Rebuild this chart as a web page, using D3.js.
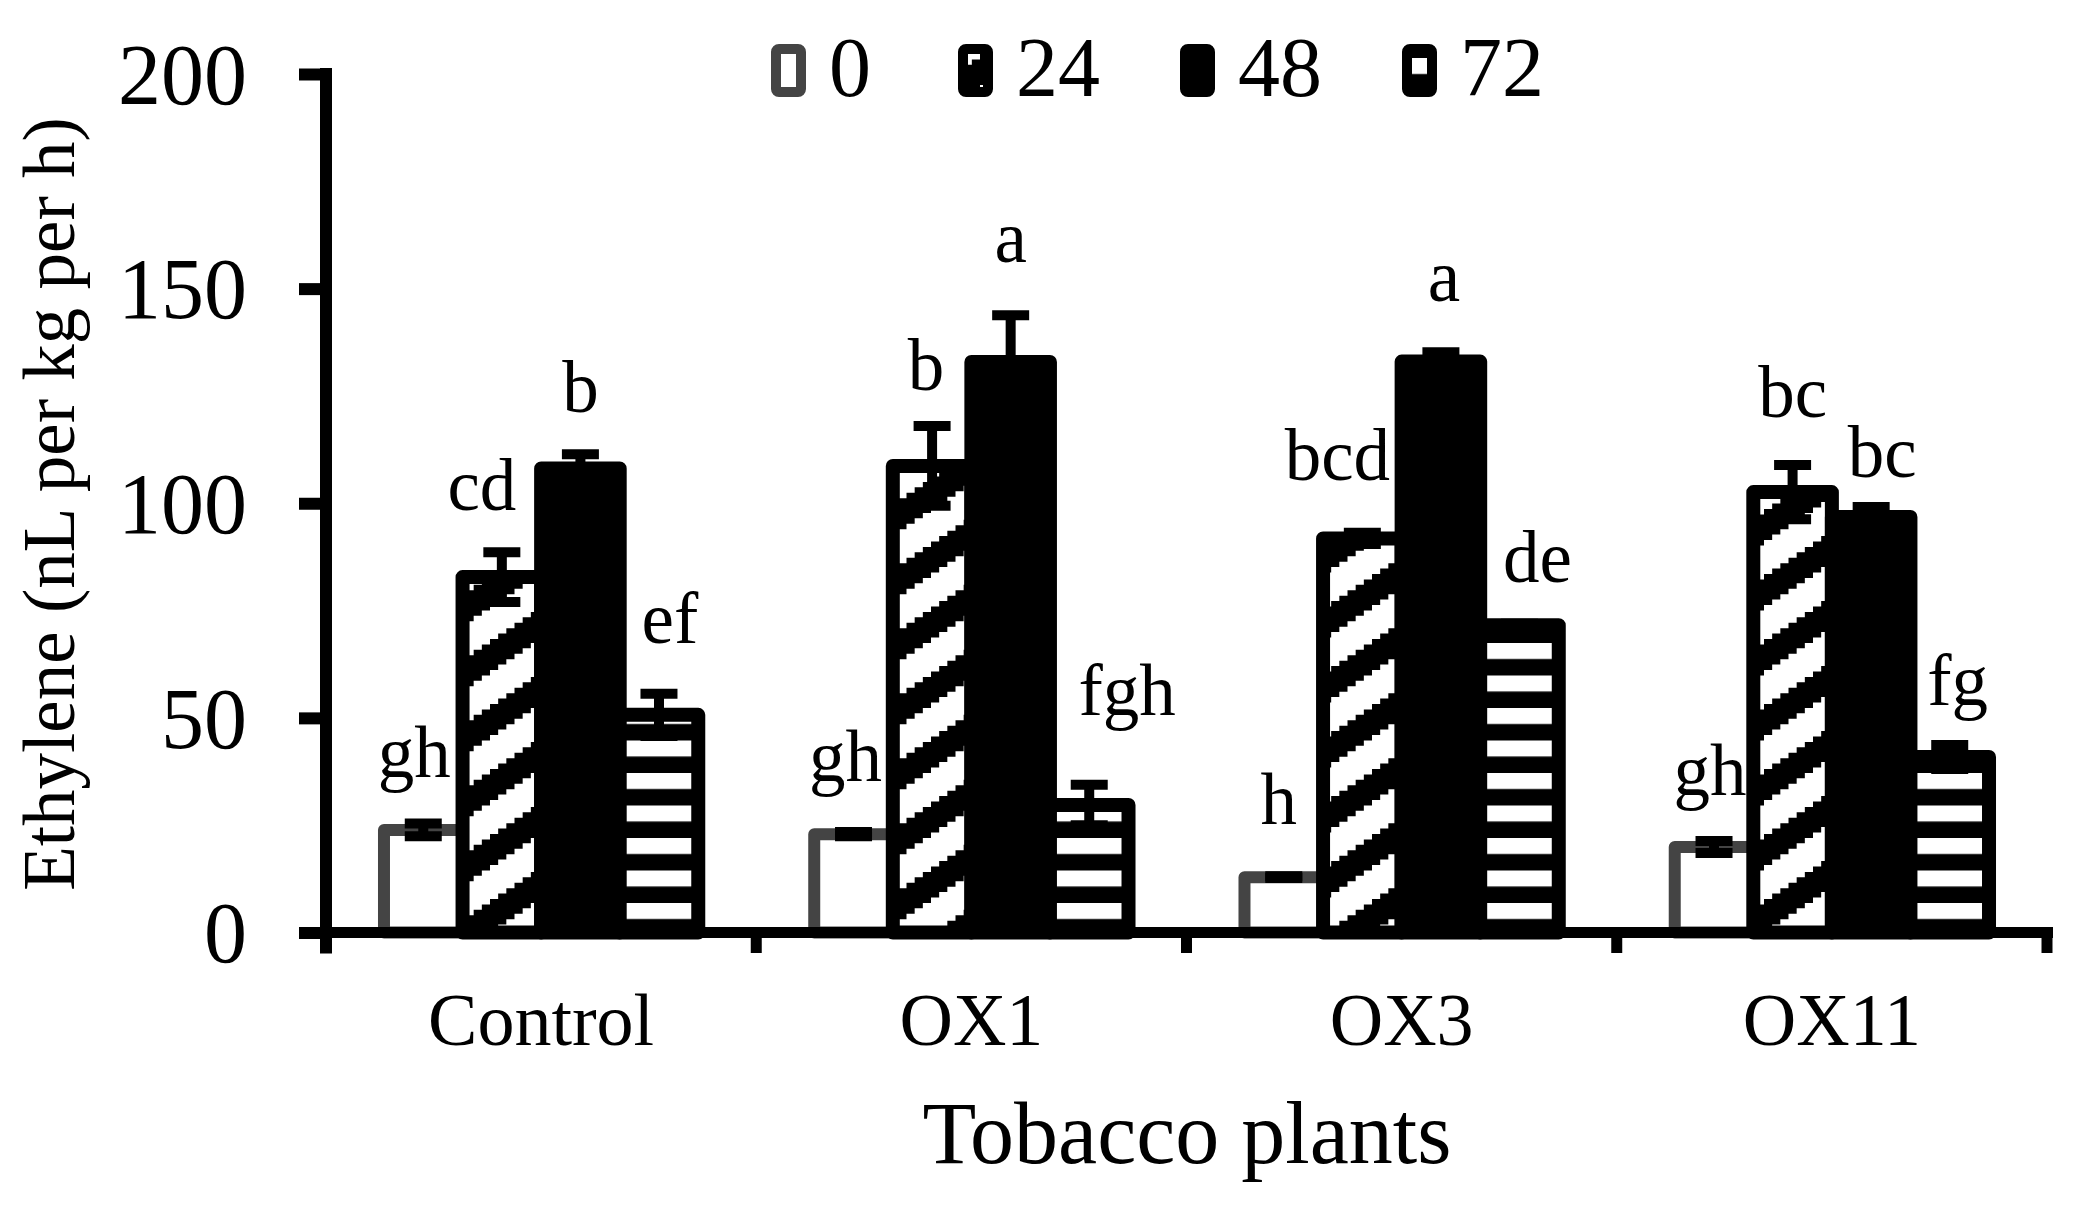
<!DOCTYPE html>
<html><head><meta charset="utf-8">
<script src="https://cdn.jsdelivr.net/npm/d3@7"></script>
<style>body{margin:0;background:#fff}text{font-family:"Liberation Serif","Times New Roman",serif;fill:#000}</style>
</head><body>
<svg id="chart" width="2084" height="1206"></svg>
<script>
// ---- data ----
const categories = ["Control", "OX1", "OX3", "OX11"];
const seriesNames = ["0", "24", "48", "72"];
const values0  = [23.9, 22.9, 12.9, 19.9];
const values24 = [82.8, 108.7, 91.8, 102.6];
const values48 = [108.1, 132.9, 133.0, 96.8];
const values72 = [50.7, 29.7, 71.6, 40.9];
const errors0  = [1.5, 0.5, 0.2, 1.4];
const errors24 = [5.8, 9.3, 1.3, 6.3];
const errors48 = [3.3, 10.9, 2.2, 2.3];
const errors72 = [4.9, 4.7, 0.3, 2.8];
const letters0  = ["gh", "gh", "h", "gh"];
const letters24 = ["cd", "b", "bcd", "bc"];
const letters48 = ["b", "a", "a", "bc"];
const letters72 = ["ef", "fgh", "de", "fg"];
const yTicks = [0, 50, 100, 150, 200];
const yTitle = "Ethylene (nL per kg per h)";
const xTitle = "Tobacco plants";

// ---- layout (hand-placed letter label nudges, px) ----
const labelDx = [[-9, -8, -5, -4], [-20, -6, -25, 0], [0, 0, 3, 11], [11, 38, 18, 8]];
const labelDy = [[1, -4, -5, 1], [5, 11, -6, -1], [5, -6, -4, 17], [-4, -23, 5, 7]];

const seriesValues = [values0, values24, values48, values72];
const seriesErrors = [errors0, errors24, errors48, errors72];
const seriesLetters = [letters0, letters24, letters48, letters72];

// ---- styles ----
const GRAY = "#444";
const fills = ["#fff", "url(#diag)", "#000", "url(#horiz)"];
const strokes = [GRAY, "#000", "#000", "#000"];
const strokeW = [12, 14, 14, 14];

const svg = d3.select("#chart");
const defs = svg.append("defs");

// stair-stepped upward diagonal pattern
const PW = 98, PH = 65, T = 31, N = 12;
const pd = defs.append("pattern").attr("id", "diag").attr("patternUnits", "userSpaceOnUse")
  .attr("width", PW).attr("height", PH).attr("patternTransform", "translate(0,20)");
pd.append("rect").attr("width", PW).attr("height", PH).attr("fill", "#fff");
function stairBand(off) {
  const sx = PW / N, sy = PH / N;
  const bottom = [], top = [];
  for (let k = 0; k < N; k++) {
    const yb = PH - k * sy + off;
    bottom.push([k * sx, yb], [(k + 1) * sx, yb]);
    top.push([k * sx, yb - T], [(k + 1) * sx, yb - T]);
  }
  return bottom.concat(top.reverse());
}
[-PH, 0, PH].forEach(off => {
  pd.append("polygon").attr("points", stairBand(off).map(p => p.join(",")).join(" ")).attr("fill", "#000");
});
// horizontal stripes pattern
const ph = defs.append("pattern").attr("id", "horiz").attr("patternUnits", "userSpaceOnUse")
  .attr("width", 20).attr("height", 32.5).attr("patternTransform", "translate(0,25.5)");
ph.append("rect").attr("width", 20).attr("height", 32.5).attr("fill", "#000");
ph.append("rect").attr("width", 20).attr("height", 16).attr("fill", "#fff");

// ---- scales ----
const x0 = d3.scaleBand().domain(categories).range([326, 2047]).padding(0);
const x1 = d3.scaleBand().domain(seriesNames).range([0, x0.bandwidth()]).paddingInner(0).paddingOuter(0.738);
const y = d3.scaleLinear().domain([0, 200]).range([932.5, 74]);

// ---- bars ----
seriesNames.forEach((s, si) => {
  svg.append("g").selectAll("rect").data(categories).join("rect")
    .attr("x", c => x0(c) + x1(s))
    .attr("width", x1.bandwidth())
    .attr("y", (c, i) => y(seriesValues[si][i]))
    .attr("height", (c, i) => y(0) - y(seriesValues[si][i]))
    .attr("fill", fills[si])
    .attr("stroke", strokes[si])
    .attr("stroke-width", strokeW[si])
    .attr("stroke-linejoin", "round");
});

// ---- error bars ----
const capW = 37;
seriesNames.forEach((s, si) => {
  const g = svg.append("g").attr("stroke", "#000").attr("stroke-width", 10);
  categories.forEach((c, i) => {
    const cx = x0(c) + x1(s) + x1.bandwidth() / 2;
    const v = seriesValues[si][i], e = seriesErrors[si][i];
    g.append("line").attr("x1", cx).attr("x2", cx).attr("y1", y(v - e)).attr("y2", y(v + e));
    [v - e, v + e].forEach(t => g.append("line").attr("x1", cx - capW / 2).attr("x2", cx + capW / 2)
      .attr("y1", y(t)).attr("y2", y(t)));
  });
});

// ---- letters ----
seriesNames.forEach((s, si) => {
  svg.append("g").selectAll("text").data(categories).join("text")
    .attr("x", (c, i) => x0(c) + x1(s) + x1.bandwidth() / 2 + labelDx[si][i])
    .attr("y", (c, i) => y(seriesValues[si][i] + seriesErrors[si][i]) - 47 + labelDy[si][i])
    .attr("text-anchor", "middle")
    .attr("font-size", 73)
    .text((c, i) => seriesLetters[si][i]);
});

// ---- axes ----
const yAxis = svg.append("g").attr("transform", "translate(326,0)")
  .call(d3.axisLeft(y).tickValues(yTicks).tickSize(27).tickSizeOuter(0).tickPadding(52).tickFormat(d3.format("d")));
yAxis.select(".domain").remove();
yAxis.selectAll(".tick line").attr("stroke", "#000").attr("stroke-width", 12);
yAxis.selectAll(".tick text").attr("font-size", 86).attr("font-family", "Liberation Serif").attr("fill", "#000").attr("dy", "0.34em");
svg.append("line").attr("x1", 326).attr("x2", 326).attr("y1", y(200) - 6).attr("y2", y(0) + 21)
  .attr("stroke", "#000").attr("stroke-width", 12);

const xAxis = svg.append("g").attr("transform", "translate(0,932.5)")
  .call(d3.axisBottom(x0).tickSize(0).tickPadding(60));
xAxis.select(".domain").remove();
xAxis.selectAll(".tick text").attr("font-size", 74).attr("font-family", "Liberation Serif").attr("fill", "#000").attr("dy", "0.71em");
svg.append("line").attr("x1", 299).attr("x2", 2053).attr("y1", 932.5).attr("y2", 932.5)
  .attr("stroke", "#000").attr("stroke-width", 11);
const bounds = categories.map(c => x0(c)).concat([x0(categories[categories.length - 1]) + x0.bandwidth()]);
svg.append("g").selectAll("line").data(bounds.slice(1)).join("line")
  .attr("x1", d => d).attr("x2", d => d).attr("y1", 932.5).attr("y2", 953)
  .attr("stroke", "#000").attr("stroke-width", 11);

// ---- titles ----
svg.append("text").attr("transform", "translate(74,504) rotate(-90)").attr("text-anchor", "middle")
  .attr("font-size", 73).text(yTitle);
svg.append("text").attr("x", 1187).attr("y", 1163).attr("text-anchor", "middle")
  .attr("font-size", 88).text(xTitle);

// ---- legend ----
const leg = svg.append("g");
let lx = 771;
seriesNames.forEach((s, si) => {
  leg.append("rect").attr("x", lx + 5).attr("y", 49).attr("width", 25).attr("height", 43)
    .attr("rx", 3).attr("fill", fills[si]).attr("stroke", strokes[si]).attr("stroke-width", 10)
    .attr("stroke-linejoin", "round");
  const t = leg.append("text").attr("x", lx + 58).attr("y", 96).attr("font-size", 84).text(s);
  lx = lx + 58 + t.node().getComputedTextLength() + 80 + (si === 0 ? 7 : 0);
});
</script>
</body></html>
